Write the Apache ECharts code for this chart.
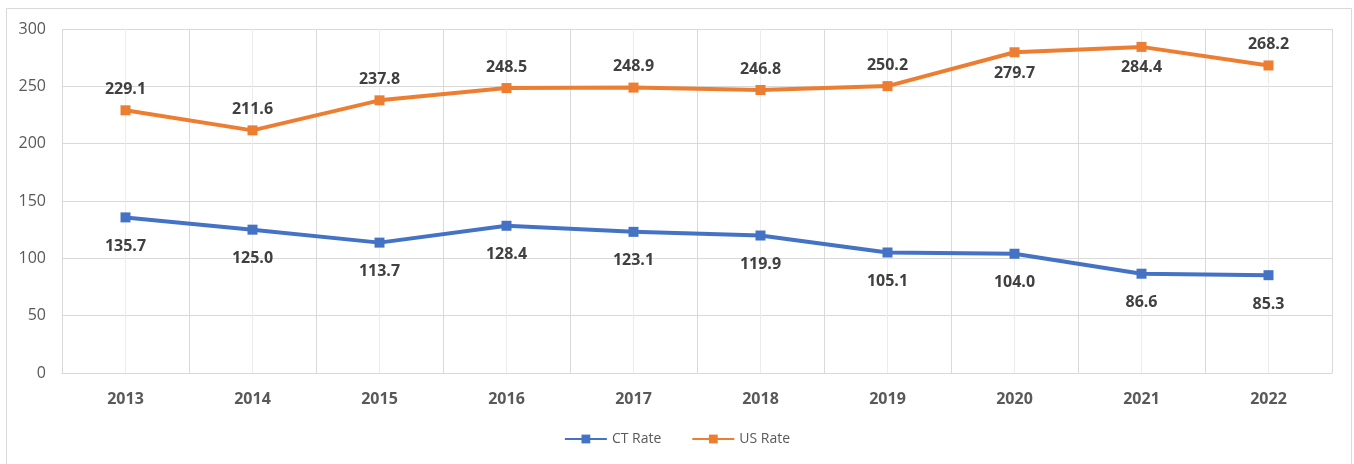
<!DOCTYPE html>
<html>
<head>
<meta charset="utf-8">
<script src="https://cdn.jsdelivr.net/npm/echarts@6/dist/echarts.min.js"></script>
<style>
html,body{margin:0;padding:0;background:#fff;}
#chart{width:1354px;height:464px;}
</style>
</head>
<body>
<div id="chart"></div>
<script>
var years = ['2013','2014','2015','2016','2017','2018','2019','2020','2021','2022'];
var ctRate = [135.7,125.0,113.7,128.4,123.1,119.9,105.1,104.0,86.6,85.3];
var usRate = [229.1,211.6,237.8,248.5,248.9,246.8,250.2,279.7,284.4,268.2];
var usLabelPos = ['top','top','top','top','top','top','top','bottom','bottom','top'];

var FONT = '"Open Sans", "Noto Sans", sans-serif';
var chart = echarts.init(document.getElementById('chart'));
chart.setOption({
  animation:false,
  textStyle:{fontFamily:FONT},
  graphic:[{type:'rect',shape:{x:6.5,y:8.5,width:1345,height:470},style:{fill:null,stroke:'#d9d9d9',lineWidth:1},silent:true}],
  grid:{left:62,right:22,top:29,bottom:91},
  legend:{
    bottom:13,left:'center',itemWidth:42,itemHeight:11,itemGap:30,
    textStyle:{color:'#595959',fontSize:14,fontFamily:FONT},
    data:['CT Rate','US Rate']
  },
  xAxis:[{
    type:'category',data:years,boundaryGap:true,
    axisLine:{show:true,lineStyle:{color:'#d9d9d9',width:1}},
    axisTick:{show:false},
    axisLabel:{color:'#595959',fontWeight:'bold',fontSize:16,margin:18,fontFamily:FONT},
    splitLine:{show:false}
  },{
    type:'value',min:0,max:20,interval:1,show:true,position:'bottom',
    axisLine:{show:false},axisTick:{show:false},axisLabel:{show:false},
    splitLine:{show:true,lineStyle:{color:['#d9d9d9','#ececec'],width:1}}
  }],
  yAxis:{
    type:'value',min:0,max:300,interval:50,
    axisLine:{show:false},axisTick:{show:false},
    axisLabel:{color:'#595959',fontSize:16,margin:16,fontFamily:FONT},
    splitLine:{lineStyle:{color:'#d9d9d9',width:1}}
  },
  series:[{
    name:'CT Rate',type:'line',data:ctRate,xAxisIndex:0,
    symbol:'rect',symbolSize:10,
    lineStyle:{color:'#4472c4',width:4},
    itemStyle:{color:'#4472c4'},
    label:{show:true,position:'bottom',distance:16,color:'#404040',fontWeight:'bold',fontSize:16,fontFamily:FONT,
      formatter:function(p){return p.value.toFixed(1);}}
  },{
    name:'US Rate',type:'line',xAxisIndex:0,
    data:usRate.map(function(v,i){return {value:v,label:{position:usLabelPos[i]}};}),
    symbol:'rect',symbolSize:10,
    lineStyle:{color:'#ed7d31',width:4},
    itemStyle:{color:'#ed7d31'},
    label:{show:true,position:'top',distance:8,color:'#404040',fontWeight:'bold',fontSize:16,fontFamily:FONT,
      formatter:function(p){return p.value.toFixed(1);}}
  }]
});
</script>
</body>
</html>
